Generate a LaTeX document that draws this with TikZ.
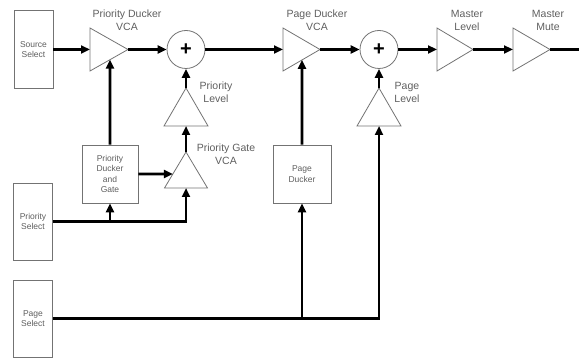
\documentclass[tikz,border=0pt]{standalone}
\usepackage{fontspec}
\setmainfont{Liberation Sans}
\usetikzlibrary{arrows.meta,calc}
\definecolor{outl}{RGB}{115,115,115}
\definecolor{txt}{RGB}{95,95,95}
\begin{document}
\begin{tikzpicture}[x=1pt,y=-1pt,
  box/.style={draw=outl,line width=0.8pt,fill=white,inner sep=0pt,align=center,
    font=\fontsize{8.5}{10.5}\selectfont,text=txt},
  lbl/.style={align=center,font=\fontsize{10.5}{13}\selectfont,text=txt,inner sep=0pt},
  sumnode/.style={draw=outl,line width=0.8pt,circle,minimum size=38pt,inner sep=0pt,
    font=\fontsize{20}{20}\selectfont\bfseries},
  tri/.style={draw=outl,line width=0.8pt,line join=miter},
  conn/.style={line width=2.6pt,draw=black},
  arr/.style={conn,-{Triangle[length=9pt,width=8pt]}},
  rtri/.pic={
    \draw[tri] (0,-21.5) -- (#1,0) -- (0,21.5) -- cycle;
    \coordinate (-in) at (0,0);
    \coordinate (-out) at (#1,0);
    \coordinate (-bl) at (0,21.5);
  },
  utri/.pic={
    \draw[tri] (0,0) -- (22,38) -- (-22,38) -- cycle;
    \coordinate (-apex) at (0,0);
    \coordinate (-base) at (0,38);
  },
  gtri/.pic={
    \draw[tri] (0,0) -- (21.5,36) -- (-21.5,36) -- cycle;
    \coordinate (-apex) at (0,0);
    \coordinate (-base) at (0,36);
    \coordinate (-bl) at (-21.5,36);
  }]
\useasboundingbox (0,0) rectangle (579,358);

% boxes
\node[box,minimum width=39pt,minimum height=78pt] (src) at (33.5,49.5) {Source\\Select};
\node[box,minimum width=56pt,minimum height=58pt] (pdg) at (110,174) {Priority\\Ducker\\and\\Gate};
\node[box,minimum width=39pt,minimum height=77pt] (psel) at (33,221.5) {Priority\\Select};
\node[box,minimum width=58pt,minimum height=58pt] (pgd) at (302,174) {Page\\Ducker};
\node[box,minimum width=39pt,minimum height=77pt] (pgsel) at (33,318.5) {Page\\Select};

% summing junctions
\node[sumnode] (s1) at (186,49.5) {+};
\node[sumnode] (s2) at (379,49.5) {+};

% amplifiers
\pic (pdv) at (90,49.5) {rtri=38};
\pic (pgv) at (283,49.5) {rtri=37};
\pic (ml) at (437,49.5) {rtri=36};
\pic (mm) at (513,49.5) {rtri=37};
\pic (pl) at (186,88) {utri};
\pic (plv) at (379,88) {utri};
\pic (gate) at (186,152) {gtri};

% control input points on triangle edges
\coordinate (pdvctl) at ($(pdv-bl)!{20/38}!(pdv-out)$);
\coordinate (pgvctl) at ($(pgv-bl)!{19/37}!(pgv-out)$);
\coordinate (gateside) at ($(gate-apex)!{22/36}!(gate-bl)$);
\coordinate (outend) at (579,49.5);

% labels
\node[lbl] (lpdv) at (127,20) {Priority Ducker\\VCA};
\node[lbl] (lpgv) at (317,20) {Page Ducker\\VCA};
\node[lbl] (lml) at (467,20) {Master\\Level};
\node[lbl] (lmm) at (548,20) {Master\\Mute};
\node[lbl] (lpl) at (216,92) {Priority\\Level};
\node[lbl] (lgate) at (226,154) {Priority Gate\\VCA};
\node[lbl] (lplv) at (407,92) {Page\\Level};

% main signal path
\draw[arr] (src.east) -- (pdv-in);
\draw[arr] (pdv-out) -- (s1.west);
\draw[arr] (s1.east) -- (pgv-in);
\draw[arr] (pgv-out) -- (s2.west);
\draw[arr] (s2.east) -- (ml-in);
\draw[arr] (ml-out) -- (mm-in);
\draw[conn] (mm-out) -- (outend);

% priority side-chain
\draw[arr] (pdg.north) -- (pdvctl);
\draw[arr] (pl-apex) -- (s1.south);
\draw[arr] (gate-apex) -- (pl-base);
\draw[arr] (pdg.east) -- (gateside);
\draw[arr] (psel.east) -| (gate-base);
\draw[arr] (psel.east -| pdg.south) -- (pdg.south);

% page side-chain
\draw[arr] (pgsel.east) -| (plv-base);
\draw[arr] (pgsel.east -| pgd.south) -- (pgd.south);
\draw[arr] (pgd.north) -- (pgvctl);
\draw[arr] (plv-apex) -- (s2.south);
\end{tikzpicture}
\end{document}
